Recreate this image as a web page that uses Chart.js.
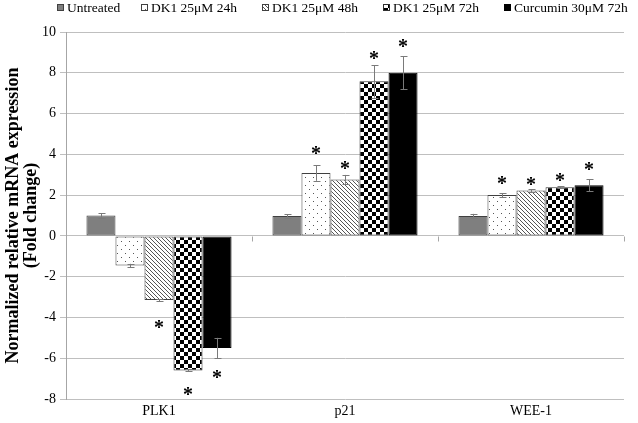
<!DOCTYPE html>
<html>
<head>
<meta charset="utf-8">
<script src="https://cdn.jsdelivr.net/npm/chart.js@4"></script>
<style>
html,body{margin:0;padding:0;background:#fff;}
canvas{display:block;}
</style>
</head>
<body>
<canvas id="c" width="638" height="423"></canvas>
<script>
// ---- data ----
const categories = ['PLK1', 'p21', 'WEE-1'];
const seriesNames = ['Untreated', 'DK1 25\u03BCM 24h', 'DK1 25\u03BCM 48h', 'DK1 25\u03BCM 72h', 'Curcumin 30\u03BCM 72h'];

const untreated = [1.0, 0.97, 0.98];
const dk1_24h = [-1.45, 3.08, 2.0];
const dk1_48h = [-3.15, 2.77, 2.23];
const dk1_72h = [-6.6, 7.58, 2.38];
const curcumin = [-5.5, 8.0, 2.48];

const untreatedErr = [0.1, 0.1, 0.1];
const dk1_24hErr = [0.08, 0.38, 0.1];
const dk1_48hErr = [0.05, 0.22, 0.07];
const dk1_72hErr = [0.05, 0.8, 0.05];
const curcuminErr = [0.5, 0.8, 0.3];

// asterisk (significance marker) positions in data units, null = none
const untreatedStar = [null, null, null];
const dk1_24hStar = [null, 4.2, 2.75];
const dk1_48hStar = [-4.3, 3.48, 2.7];
const dk1_72hStar = [-7.6, 8.87, 2.9];
const curcuminStar = [-6.75, 9.45, 3.43];

const yTicks = [-8, -6, -4, -2, 0, 2, 4, 6, 8, 10];

// ---- patterns ----
function makePattern(size, draw) {
  const c = document.createElement('canvas');
  c.width = size; c.height = size;
  const g = c.getContext('2d');
  draw(g, size);
  return document.getElementById('c').getContext('2d').createPattern(c, 'repeat');
}
const dotPat = makePattern(8, (g) => {
  g.fillStyle = '#fff'; g.fillRect(0, 0, 8, 8);
  g.fillStyle = '#555';
  g.fillRect(1, 1, 1, 1); g.fillRect(5, 5, 1, 1);
});
const hatchPat = makePattern(4, (g) => {
  g.fillStyle = '#fff'; g.fillRect(0, 0, 4, 4);
  g.fillStyle = '#555';
  for (let i = 0; i < 4; i++) g.fillRect(i, i, 1, 1);
});
const checkPat = makePattern(8, (g) => {
  g.fillStyle = '#fff'; g.fillRect(0, 0, 8, 8);
  g.fillStyle = '#000';
  g.fillRect(0, 0, 4, 4); g.fillRect(4, 4, 4, 4);
});

const fills = ['#7f7f7f', dotPat, hatchPat, checkPat, '#000'];
const borders = ['#404040', '#404040', '#404040', '#303030', '#000'];
const values = [untreated, dk1_24h, dk1_48h, dk1_72h, curcumin];
const errs = [untreatedErr, dk1_24hErr, dk1_48hErr, dk1_72hErr, curcuminErr];
const stars = [untreatedStar, dk1_24hStar, dk1_48hStar, dk1_72hStar, curcuminStar];

const SERIF = "'Liberation Serif', 'Times New Roman', serif";

const extras = {
  id: 'extras',
  afterDatasetsDraw(chart) {
    const ctx = chart.ctx;
    const y = chart.scales.y;
    const area = chart.chartArea;
    ctx.save();
    // category boundary ticks on the zero line
    const y0 = Math.round(y.getPixelForValue(0)) + 0.5;
    ctx.strokeStyle = '#a6a6a6';
    ctx.lineWidth = 1;
    const n = categories.length;
    const w = (area.right - area.left) / n;
    for (let k = 1; k <= n; k++) {
      const px = Math.round(area.left + w * k) + 0.5;
      ctx.beginPath(); ctx.moveTo(px, y0); ctx.lineTo(px, y0 + 5); ctx.stroke();
    }
    // error bars
    ctx.strokeStyle = '#7a7a7a';
    chart.data.datasets.forEach((ds, di) => {
      const meta = chart.getDatasetMeta(di);
      meta.data.forEach((el, i) => {
        const v = values[di][i], e = errs[di][i];
        const px = Math.round(el.x) + 0.5;
        const yt = y.getPixelForValue(v + e), yb = y.getPixelForValue(v - e);
        ctx.beginPath();
        ctx.moveTo(px, yt); ctx.lineTo(px, yb);
        ctx.moveTo(px - 3, Math.round(yt) + 0.5); ctx.lineTo(px + 4, Math.round(yt) + 0.5);
        ctx.moveTo(px - 3, Math.round(yb) + 0.5); ctx.lineTo(px + 4, Math.round(yb) + 0.5);
        ctx.stroke();
      });
    });
    // asterisks
    ctx.fillStyle = '#000';
    ctx.font = 'bold 20px ' + SERIF;
    ctx.textAlign = 'center';
    ctx.textBaseline = 'alphabetic';
    chart.data.datasets.forEach((ds, di) => {
      const meta = chart.getDatasetMeta(di);
      meta.data.forEach((el, i) => {
        const s = stars[di][i];
        if (s === null) return;
        ctx.fillText('*', el.x, y.getPixelForValue(s) + 10);
      });
    });
    // legend
    const legendX = [57, 141, 262, 383, 504];
    ctx.font = '13.5px ' + SERIF;
    ctx.textAlign = 'left';
    seriesNames.forEach((name, i) => {
      const bx = legendX[i];
      ctx.fillStyle = fills[i];
      ctx.fillRect(bx, 4, 7, 7);
      ctx.strokeStyle = borders[i];
      ctx.strokeRect(bx + 0.5, 4.5, 6, 6);
      ctx.fillStyle = '#000';
      ctx.fillText(name, bx + 10, 12);
    });
    ctx.restore();
  }
};

new Chart(document.getElementById('c'), {
  type: 'bar',
  data: {
    labels: categories,
    datasets: seriesNames.map((name, i) => ({
      label: name,
      data: values[i],
      backgroundColor: fills[i],
      borderColor: borders[i],
      borderWidth: 1,
      borderSkipped: false,
      categoryPercentage: 0.78,
      barPercentage: 1.0
    }))
  },
  options: {
    responsive: false,
    devicePixelRatio: 1,
    animation: false,
    layout: { padding: { top: 32, right: 14, left: 0, bottom: 0 } },
    plugins: { legend: { display: false }, tooltip: { enabled: false } },
    scales: {
      x: {
        grid: { display: false, drawTicks: false },
        border: { display: false },
        ticks: { color: '#000', font: { family: SERIF, size: 14 }, padding: 4 },
        afterFit(s) { s.height = 24; }
      },
      y: {
        min: -8, max: 10,
        afterBuildTicks(s) { s.ticks = yTicks.map(v => ({ value: v })); },
        ticks: { color: '#000', font: { family: SERIF, size: 14 }, padding: 4 },
        grid: { color: '#bfbfbf', tickColor: '#bfbfbf', tickLength: 6 },
        border: { color: '#a6a6a6' },
        title: {
          display: true,
          text: ['Normalized relative mRNA expression', '(Fold change)'],
          color: '#000',
          font: { family: SERIF, size: 18, weight: 'bold', lineHeight: 1.0 },
          padding: { top: 4, bottom: 0 }
        },
        afterFit(s) { s.width = 66; }
      }
    }
  },
  plugins: [extras]
});
</script>
</body>
</html>
